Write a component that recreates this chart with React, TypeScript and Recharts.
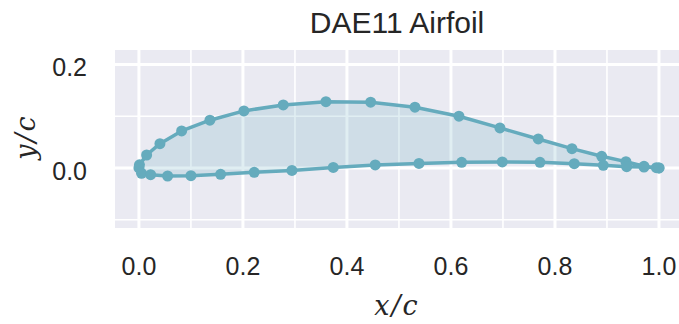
import { ScatterChart, Scatter, XAxis, YAxis, CartesianGrid, Label } from "recharts";

// DAE11 coordinates (Selig order: TE -> upper -> LE -> lower -> TE)
const xUpper = [1.0, 0.995, 0.9712, 0.9365, 0.8898, 0.8327, 0.7679, 0.6942, 0.6154, 0.5308, 0.4456, 0.3596, 0.2775, 0.2019, 0.1365, 0.0821, 0.0404, 0.0148, 0.001];
const yUpper = [0.0, 0.0005, 0.0033, 0.0122, 0.0226, 0.0373, 0.0561, 0.0774, 0.1, 0.1174, 0.1271, 0.1282, 0.1219, 0.1103, 0.0923, 0.0716, 0.047, 0.0251, 0.006];
const xLower = [0.0, 0.005, 0.0225, 0.0552, 0.1, 0.1571, 0.2217, 0.2942, 0.3737, 0.4544, 0.5385, 0.6206, 0.6987, 0.7712, 0.8371, 0.8929, 0.9379, 0.9712, 1.0];
const yLower = [0.0, -0.0103, -0.013, -0.0155, -0.0149, -0.0122, -0.0083, -0.0048, 0.001, 0.0058, 0.0088, 0.011, 0.0116, 0.011, 0.0083, 0.0052, 0.0025, 0.0019, 0.0];

const xTicks = [0, 0.2, 0.4, 0.6, 0.8, 1.0];
const xMinor = [0.1, 0.3, 0.5, 0.7, 0.9];
const yTicks = [0, 0.2];
const yMinor = [-0.1, 0.1];

const airfoil = [
  ...xUpper.map((x, i) => ({ x, y: yUpper[i] })),
  ...xLower.map((x, i) => ({ x, y: yLower[i] })),
];

const color = "#65abbd";
const sans = "'Liberation Sans', Arial, sans-serif";
const serif = "'DejaVu Serif', serif";

// closed outline with a light fill
const outline = (props: any) => {
  const pts = props.points || [];
  const d = pts.map((p: any, i: number) => `${i ? "L" : "M"}${p.x},${p.y}`).join(" ") + " Z";
  return (
    <path d={d} fill={color} fillOpacity={0.2} stroke={color} strokeWidth={3.5} strokeLinejoin="round" />
  );
};

const dot = (props: any) => <circle cx={props.cx} cy={props.cy} r={5.5} fill={color} />;

export default function App() {
  return (
    <div style={{ position: "absolute", left: 0, top: 0, width: 679, height: 324 }}>
      <div
        style={{
          position: "absolute", left: 115, top: 8, width: 564, textAlign: "center",
          fontFamily: sans, fontSize: 30, lineHeight: "30px", color: "#262626",
        }}
      >
        DAE11 Airfoil
      </div>
      <ScatterChart width={679} height={324} margin={{ top: 50, right: 0, bottom: 0, left: 0 }}>
        <CartesianGrid
          fill="#eaeaf2"
          stroke="#ffffff"
          strokeWidth={1.6}
          verticalValues={xMinor}
          horizontalValues={yMinor}
        />
        <CartesianGrid stroke="#ffffff" strokeWidth={3} verticalValues={xTicks} horizontalValues={yTicks} />
        <XAxis
          type="number"
          dataKey="x"
          domain={[-0.046, 1.0385]}
          ticks={xTicks}
          tickFormatter={(v: number) => v.toFixed(1)}
          axisLine={false}
          tickLine={false}
          tickSize={0}
          tickMargin={29}
          height={96}
          tick={{ fontFamily: sans, fontSize: 25, fill: "#262626" }}
        >
          <Label
            value="x/c"
            position="insideBottom"
            offset={9}
            style={{ fontFamily: serif, fontStyle: "italic", fontSize: 27, fill: "#262626", letterSpacing: 2 }}
          />
        </XAxis>
        <YAxis
          type="number"
          dataKey="y"
          domain={[-0.116, 0.228]}
          ticks={yTicks}
          tickFormatter={(v: number) => v.toFixed(1)}
          axisLine={false}
          tickLine={false}
          tickSize={0}
          tickMargin={28}
          width={115}
          tick={{ fontFamily: sans, fontSize: 25, fill: "#262626", dy: 3 }}
        >
          <Label
            content={() => (
              <text
                x={25}
                y={137}
                transform="rotate(-90 25 137)"
                textAnchor="middle"
                dominantBaseline="central"
                style={{ fontFamily: serif, fontStyle: "italic", fontSize: 27, fill: "#262626", letterSpacing: 2 }}
              >
                y/c
              </text>
            )}
          />
        </YAxis>
        <Scatter
          data={airfoil}
          fill={color}
          line={outline}
          lineJointType="linear"
          shape={dot}
          isAnimationActive={false}
        />
      </ScatterChart>
    </div>
  );
}
